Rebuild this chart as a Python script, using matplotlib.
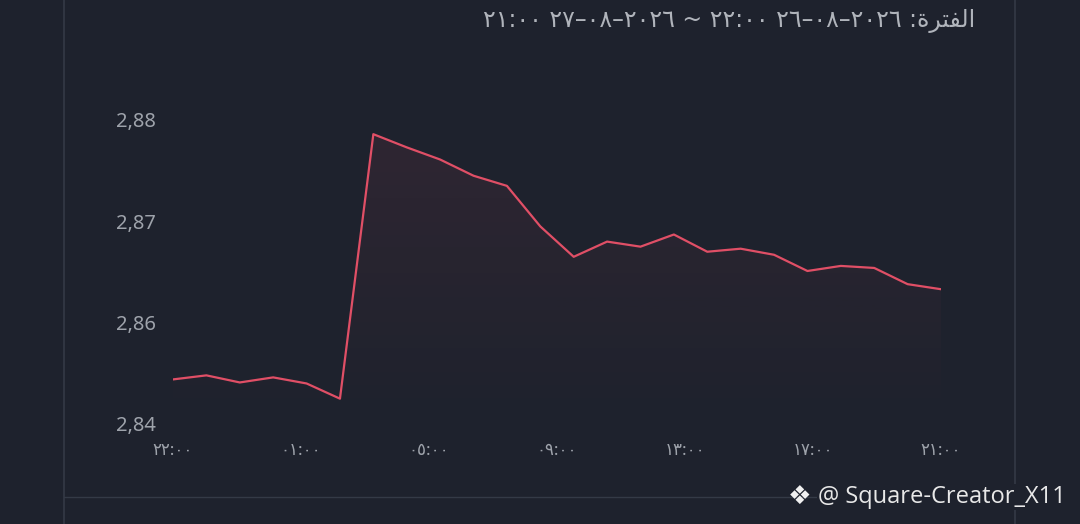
import numpy as np
import matplotlib
matplotlib.use("Agg")
import matplotlib.pyplot as plt
from matplotlib.lines import Line2D
from matplotlib.patches import PathPatch
from matplotlib.colors import to_rgb

plt.rcParams["font.family"] = ["Noto Sans", "DejaVu Sans"]

# hourly prices, 22:00 (26 Aug) -> 21:00 (27 Aug)
prices = [2.8544, 2.8548, 2.8541, 2.8546, 2.8540, 2.8525,
          2.8786, 2.8773, 2.8761, 2.8745, 2.8735, 2.8695,
          2.8665, 2.8680, 2.8675, 2.8687, 2.8670, 2.8673,
          2.8667, 2.8651, 2.8656, 2.8654, 2.8638, 2.8633]

x_labels = ["٢٢:٠٠", "٠١:٠٠", "٠٥:٠٠", "٠٩:٠٠", "١٣:٠٠", "١٧:٠٠", "٢١:٠٠"]
y_ticks = [2.85, 2.86, 2.87, 2.88]
y_labels = ["2,84", "2,86", "2,87", "2,88"]

# visual (already right-to-left ordered) title
title = "٢١:٠٠ ٢٧–٠٨–٢٠٢٦ ~ ٢٢:٠٠ ٢٦–٠٨–٢٠٢٦ :ﺓﺮﺘﻔﻟﺍ"
watermark = "@ Square-Creator_X11"

bg = "#1e222d"
line_c = "#e04f66"
frame_c = "#343a46"

W, H = 1080, 524
fig = plt.figure(figsize=(W / 100, H / 100), dpi=100, facecolor=bg)
ax = fig.add_axes([173 / W, 100 / H, 768 / W, 304 / H])
ax.set_facecolor(bg)

x = np.arange(len(prices))
ax.plot(x, prices, color=line_c, lw=1.6, zorder=3)

# gradient fill under the line
fill = ax.fill_between(x, prices, y_ticks[0], color="none", lw=0)
clip = PathPatch(fill.get_paths()[0], transform=ax.transData, fc="none", ec="none")
ax.add_patch(clip)
grad = np.zeros((100, 1, 4))
grad[..., :3] = to_rgb(line_c)
grad[:, 0, 3] = np.linspace(0.09, 0.0, 100)
im = ax.imshow(grad, aspect="auto", origin="upper", zorder=2,
               extent=[x[0], x[-1], y_ticks[0], max(prices)])
im.set_clip_path(clip)

ax.set_xlim(x[0], x[-1])
ax.set_ylim(y_ticks[0], y_ticks[-1])

ax.set_yticks(y_ticks, y_labels)
ax.set_xticks(np.linspace(x[0], x[-1], len(x_labels)), x_labels)
ax.tick_params(axis="y", length=0, pad=12, labelsize=14.5, labelcolor="#9ea3ab")
ax.tick_params(axis="x", length=0, pad=14, labelsize=12, labelcolor="#9ea3ab")
for s in ax.spines.values():
    s.set_visible(False)

fig.text(975 / W, 1 - 21 / H, title, ha="right", va="center", fontsize=17,
         color="#b0b4bb", family="DejaVu Sans")

# frame lines of the card
fig.add_artist(Line2D([64 / W, 64 / W], [0, 1], color=frame_c, lw=1.2))
fig.add_artist(Line2D([1015 / W, 1015 / W], [0, 1], color=frame_c, lw=1.2))
fig.add_artist(Line2D([64 / W, 1015 / W], [1 - 497 / H, 1 - 497 / H], color=frame_c, lw=1))

fig.text(800 / W, 1 - 497 / H, "❖", ha="center", va="center", fontsize=19,
         color="#f0f0f0", family="DejaVu Sans")
fig.text(818 / W, 1 - 497 / H, watermark, ha="left", va="center", fontsize=17,
         color="#e8e8e8", family="Open Sans",
         bbox=dict(fc=bg, ec="none", pad=1))

fig.savefig("out.png", dpi=100, facecolor=bg)
